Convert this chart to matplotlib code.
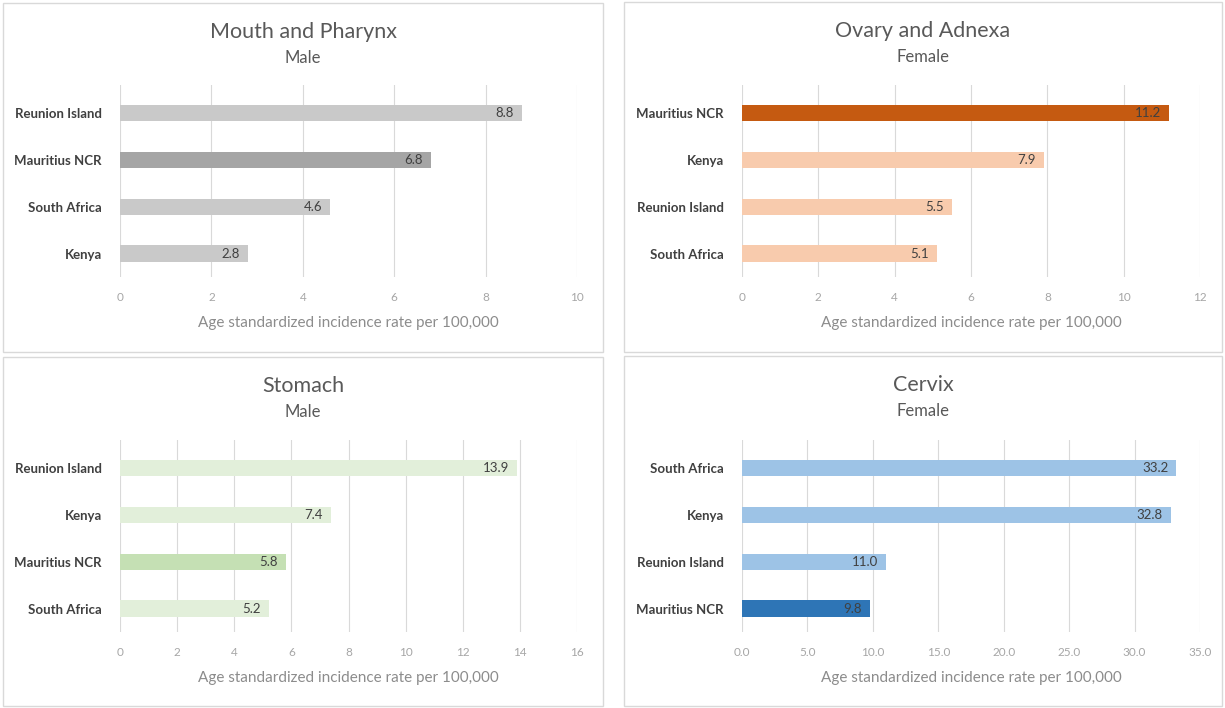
import matplotlib.pyplot as plt
from matplotlib.patches import Rectangle

plt.rcParams['font.family'] = ['Lato', 'DejaVu Sans']

W, H = 1225, 708

# values per panel, listed top to bottom as drawn
mouth_cats = ["Reunion Island", "Mauritius NCR", "South Africa", "Kenya"]
mouth_vals = [8.8, 6.8, 4.6, 2.8]

ovary_cats = ["Mauritius NCR", "Kenya", "Reunion Island", "South Africa"]
ovary_vals = [11.2, 7.9, 5.5, 5.1]

stomach_cats = ["Reunion Island", "Kenya", "Mauritius NCR", "South Africa"]
stomach_vals = [13.9, 7.4, 5.8, 5.2]

cervix_cats = ["South Africa", "Kenya", "Reunion Island", "Mauritius NCR"]
cervix_vals = [33.2, 32.8, 11.0, 9.8]

xlabel = "Age standardized incidence rate per 100,000"

fig = plt.figure(figsize=(W / 100, H / 100), dpi=100)
fig.patch.set_facecolor("white")


def px_axes(x0, y0, x1, y1):
    # pixel box (top-left origin) -> figure axes
    return fig.add_axes([x0 / W, 1 - y1 / H, (x1 - x0) / W, (y1 - y0) / H])


def panel(box, plot_box, title, sub, cats, vals, base, hi, xmax, step, tick_fmt):
    bx0, by0, bx1, by1 = box
    fig.patches.append(Rectangle((bx0 / W, 1 - by1 / H), (bx1 - bx0) / W, (by1 - by0) / H,
                                 transform=fig.transFigure, fill=False,
                                 edgecolor="#d9d9d9", linewidth=1.0))
    cx = (bx0 + bx1) / 2
    fig.text(cx / W, 1 - (by0 + 29) / H, title, ha="center", va="center",
             fontsize=15.5, color="#595959")
    fig.text(cx / W, 1 - (by0 + 55) / H, sub, ha="center", va="center",
             fontsize=12, color="#595959")

    ax = px_axes(*plot_box)
    y = list(range(len(cats)))
    colors = [hi if c == "Mauritius NCR" else base for c in cats]
    ax.barh(y, vals, height=0.35, color=colors, zorder=3)
    for yi, v in zip(y, vals):
        ax.text(v - xmax * 0.018, yi, "{:.1f}".format(v), ha="right", va="center",
                fontsize=9.5, color="#404040", zorder=4)

    ax.set_ylim(3.5, -0.6)
    ax.set_xlim(0, xmax)
    ticks = [i * step for i in range(int(round(xmax / step)) + 1)]
    ax.set_xticks(ticks)
    ax.set_xticklabels([tick_fmt.format(t) for t in ticks], fontsize=8.5, color="#a6a6a6")
    ax.set_yticks(y)
    ax.set_yticklabels(cats, fontsize=9.5, fontweight="bold", color="#404040")
    ax.tick_params(axis="both", length=0)
    ax.tick_params(axis="x", pad=11)
    ax.tick_params(axis="y", pad=13)
    ax.grid(axis="x", color="#d9d9d9", linewidth=0.8, zorder=0)
    for s in ax.spines.values():
        s.set_visible(False)
    ax.set_xlabel(xlabel, fontsize=11, color="#8c8c8c", labelpad=9)
    return ax


panel((3, 3, 603, 352), (120, 85, 577, 277), "Mouth and Pharynx", "Male",
      mouth_cats, mouth_vals, "#c9c9c9", "#a5a5a5", 10, 2, "{:g}")
panel((624, 2, 1222, 352), (742, 85, 1200, 277), "Ovary and Adnexa", "Female",
      ovary_cats, ovary_vals, "#f8cbad", "#c55a11", 12, 2, "{:g}")
panel((3, 357, 603, 706), (120, 440, 577, 632), "Stomach", "Male",
      stomach_cats, stomach_vals, "#e2efda", "#c5e0b4", 16, 2, "{:g}")
panel((624, 356, 1222, 706), (742, 440, 1200, 632), "Cervix", "Female",
      cervix_cats, cervix_vals, "#9dc3e6", "#2e75b6", 35, 5, "{:.1f}")

fig.savefig("out.png", dpi=100, facecolor="white")
